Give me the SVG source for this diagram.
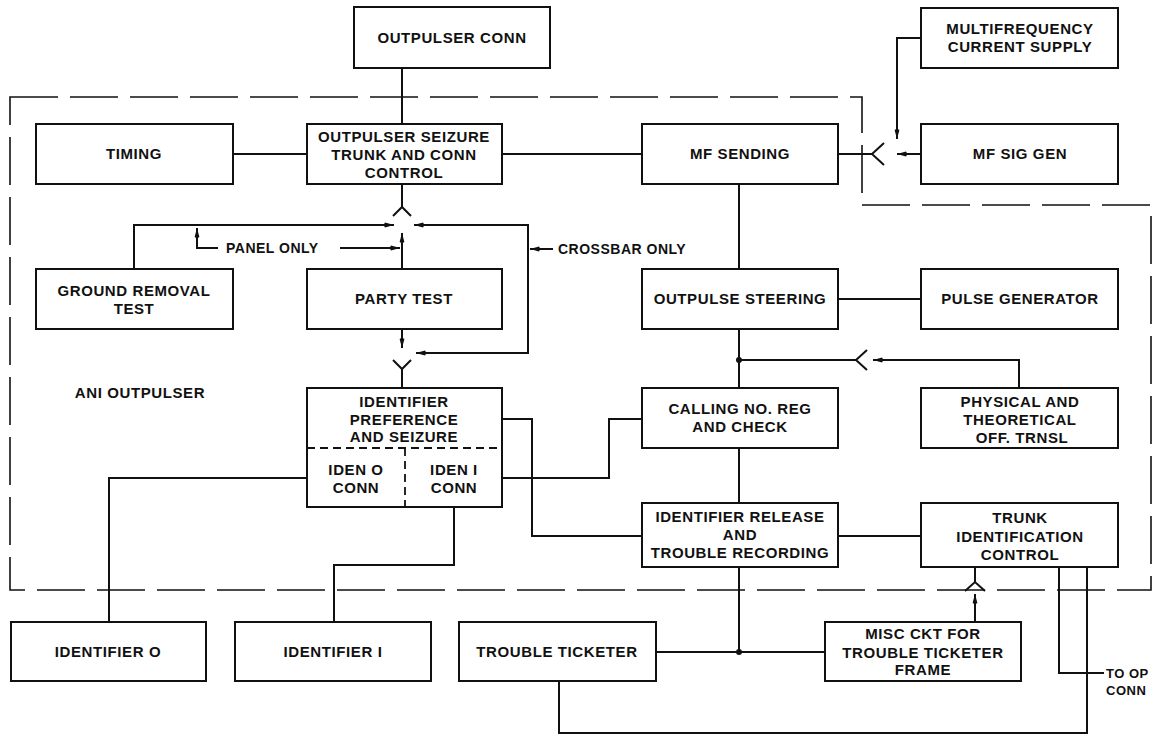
<svg xmlns="http://www.w3.org/2000/svg" width="1162" height="737" viewBox="0 0 1162 737">
<defs>
<style>
.box{fill:#fff;stroke:#111;stroke-width:2}
.t{font-family:"Liberation Sans",Arial,sans-serif;font-weight:bold;font-size:15px;letter-spacing:0.6px;fill:#111;text-anchor:middle}
.ts{font-family:"Liberation Sans",Arial,sans-serif;font-weight:bold;font-size:14px;letter-spacing:0.5px;fill:#111}
.ln{fill:none;stroke:#111;stroke-width:2}
.bd{fill:none;stroke:#111;stroke-width:1.6;stroke-dasharray:48 12}
.dv{fill:none;stroke:#111;stroke-width:1.8;stroke-dasharray:8 5}
.ar{marker-end:url(#ah)}
</style>
<marker id="ah" markerUnits="userSpaceOnUse" markerWidth="12" markerHeight="8" refX="10" refY="4" orient="auto" viewBox="0 0 12 8">
<path d="M1,1.6 L10,4 L1,6.4 Q-1,4 1,1.6 Z" fill="#111"/>
</marker>
</defs>
<rect width="1162" height="737" fill="#fff"/>
<path class="bd" d="M10,97 H862 V205 H1151 V590 H10 Z"/>
<g id="connectors">
<path class="ln" d="M402,68 V124"/>
<path class="ln" d="M233,154 H307"/>
<path class="ln" d="M502,154 H642"/>
<path class="ln" d="M838,154 H872"/>
<polyline class="ln" points="884,143 872,154 884,165"/>
<path class="ln ar" d="M921,154 H897"/>
<path class="ln ar" d="M921,38 H897 V139"/>
<path class="ln" d="M402,184 V207"/>
<polyline class="ln" points="393,216 402,207 411,216"/>
<path class="ln ar" d="M134,269 V225 H394"/>
<path class="ln ar" d="M528,290 V225 H414"/>
<path class="ln ar" d="M528,290 V353 H416"/>
<path class="ln ar" d="M402,269 V233"/>
<path class="ln ar" d="M218,248 H197 V228"/>
<path class="ln ar" d="M340,248 H400"/>
<path class="ln ar" d="M553,249 H530"/>
<path class="ln ar" d="M402,329 V348"/>
<polyline class="ln" points="393,360 402,369 411,360"/>
<path class="ln" d="M402,369 V388"/>
<path class="ln" d="M502,419 H532 V536 H642"/>
<path class="ln" d="M502,478 H609 V419 H642"/>
<path class="ln" d="M307,478 H109 V622"/>
<path class="ln" d="M454,507 V565 H334 V622"/>
<path class="ln" d="M739,184 V269"/>
<path class="ln" d="M838,299 H921"/>
<path class="ln" d="M739,329 V388"/>
<path class="ln" d="M739,360 H856"/>
<circle cx="739" cy="360" r="3" fill="#111"/>
<polyline class="ln" points="867,350 856,360 867,370"/>
<path class="ln ar" d="M1019,388 V360 H873"/>
<path class="ln" d="M739,448 V503"/>
<path class="ln" d="M838,536 H921"/>
<path class="ln" d="M739,567 V652"/>
<path class="ln" d="M656,652 H825"/>
<circle cx="739" cy="652" r="3" fill="#111"/>
<path class="ln ar" d="M975,622 V594"/>
<polyline class="ln" points="965,591 975,582 985,591"/>
<path class="ln" d="M975,582 V567"/>
<path class="ln" d="M1059,567 V673 H1104"/>
<path class="ln" d="M1087,567 V733 H559 V681"/>
</g>
<g id="n-outpulser-conn"><rect class="box" x="354" y="7" width="196" height="61"/><text class="t" x="452" y="43">OUTPULSER CONN</text></g>
<g id="n-multifrequency"><rect class="box" x="921" y="8" width="197" height="60"/><text class="t" x="1020" y="34">MULTIFREQUENCY</text><text class="t" x="1020" y="52">CURRENT SUPPLY</text></g>
<g id="n-timing"><rect class="box" x="36" y="124" width="197" height="60"/><text class="t" x="134" y="159">TIMING</text></g>
<g id="n-ops"><rect class="box" x="307" y="124" width="195" height="60"/><text class="t" x="404" y="142">OUTPULSER SEIZURE</text><text class="t" x="404" y="160">TRUNK AND CONN</text><text class="t" x="404" y="178">CONTROL</text></g>
<g id="n-mf-sending"><rect class="box" x="642" y="124" width="196" height="60"/><text class="t" x="740" y="159">MF SENDING</text></g>
<g id="n-mf-sig-gen"><rect class="box" x="921" y="124" width="197" height="60"/><text class="t" x="1020" y="159">MF SIG GEN</text></g>
<g id="n-ground-removal"><rect class="box" x="36" y="269" width="197" height="60"/><text class="t" x="134" y="296">GROUND REMOVAL</text><text class="t" x="134" y="314">TEST</text></g>
<g id="n-party-test"><rect class="box" x="307" y="269" width="195" height="60"/><text class="t" x="404" y="304">PARTY TEST</text></g>
<g id="n-outpulse-steering"><rect class="box" x="642" y="269" width="196" height="60"/><text class="t" x="740" y="304">OUTPULSE STEERING</text></g>
<g id="n-pulse-generator"><rect class="box" x="921" y="269" width="197" height="60"/><text class="t" x="1020" y="304">PULSE GENERATOR</text></g>
<g id="n-identifier-pref"><rect class="box" x="307" y="388" width="195" height="119"/>
<path class="dv" d="M307,448 H502"/><path class="dv" d="M405,448 V507"/>
<text class="t" x="404" y="407">IDENTIFIER</text><text class="t" x="404" y="425">PREFERENCE</text><text class="t" x="404" y="442">AND SEIZURE</text>
<text class="t" x="356" y="475">IDEN O</text><text class="t" x="356" y="493">CONN</text>
<text class="t" x="454" y="475">IDEN I</text><text class="t" x="454" y="493">CONN</text></g>
<g id="n-calling"><rect class="box" x="642" y="388" width="196" height="60"/><text class="t" x="740" y="414">CALLING NO. REG</text><text class="t" x="740" y="432">AND CHECK</text></g>
<g id="n-physical"><rect class="box" x="921" y="388" width="197" height="60"/><text class="t" x="1020" y="407">PHYSICAL AND</text><text class="t" x="1020" y="425">THEORETICAL</text><text class="t" x="1022" y="443">OFF. TRNSL</text></g>
<g id="n-identifier-release"><rect class="box" x="642" y="503" width="196" height="64"/><text class="t" x="740" y="522">IDENTIFIER RELEASE</text><text class="t" x="740" y="540">AND</text><text class="t" x="740" y="558">TROUBLE RECORDING</text></g>
<g id="n-trunk-id"><rect class="box" x="921" y="503" width="197" height="64"/><text class="t" x="1020" y="523">TRUNK</text><text class="t" x="1020" y="542">IDENTIFICATION</text><text class="t" x="1020" y="560">CONTROL</text></g>
<g id="n-identifier-0"><rect class="box" x="11" y="622" width="195" height="59"/><text class="t" x="108" y="657">IDENTIFIER O</text></g>
<g id="n-identifier-1"><rect class="box" x="235" y="622" width="196" height="59"/><text class="t" x="333" y="657">IDENTIFIER I</text></g>
<g id="n-trouble-ticketer"><rect class="box" x="459" y="622" width="197" height="59"/><text class="t" x="557" y="657">TROUBLE TICKETER</text></g>
<g id="n-misc"><rect class="box" x="825" y="622" width="196" height="59"/><text class="t" x="923" y="639">MISC CKT FOR</text><text class="t" x="923" y="658">TROUBLE TICKETER</text><text class="t" x="923" y="675">FRAME</text></g>
<g id="labels">
<text class="t" x="140" y="398">ANI OUTPULSER</text>
<text class="ts" x="226" y="253">PANEL ONLY</text>
<text class="ts" x="558" y="254">CROSSBAR ONLY</text>
<text class="ts" x="1106" y="678" style="font-size:13px">TO OP</text>
<text class="ts" x="1106" y="695" style="font-size:13px">CONN</text>
</g>
</svg>
